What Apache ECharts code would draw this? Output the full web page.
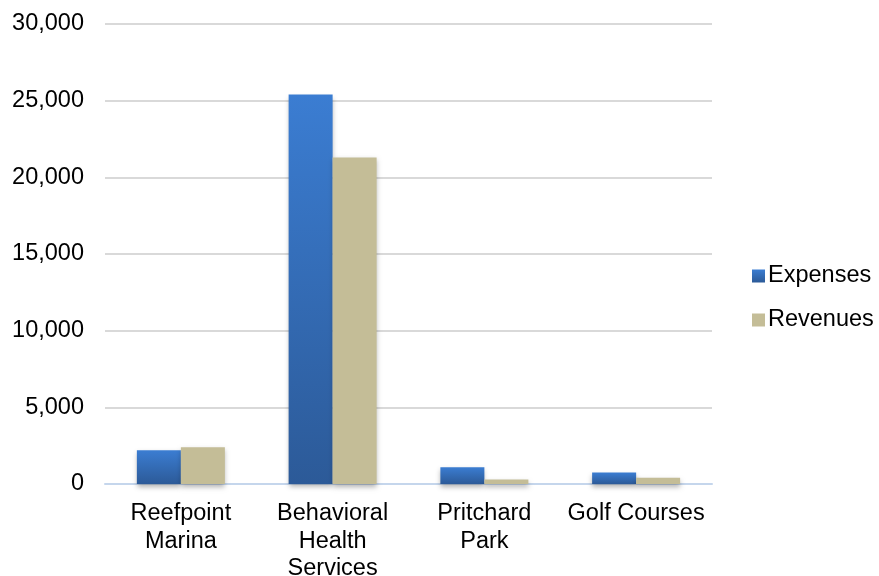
<!DOCTYPE html>
<html>
<head>
<meta charset="utf-8">
<script src="https://cdn.jsdelivr.net/npm/echarts@6/dist/echarts.min.js"></script>
<style>
  html, body { margin: 0; padding: 0; background: #fff; }
  #chart { width: 879px; height: 576px; }
</style>
</head>
<body>
<div id="chart"></div>
<script>
const categories = ['Reefpoint\nMarina', 'Behavioral\nHealth\nServices', 'Pritchard\nPark', 'Golf Courses'];
const expenses = [2200, 25400, 1100, 750];
const revenues = [2400, 21300, 300, 400];

const chart = echarts.init(document.getElementById('chart'));

const expColor = new echarts.graphic.LinearGradient(0, 0, 0, 1, [
  { offset: 0, color: '#3b7dd2' },
  { offset: 1, color: '#2c5a98' }
]);

chart.setOption({
  animation: false,
  textStyle: { fontFamily: 'Liberation Sans, Arial, sans-serif' },
  grid: { left: 105, right: 167, top: 24, bottom: 92, outerBoundsMode: 'none', containLabel: false },
  legend: {
    orient: 'vertical',
    left: 747,
    top: 259,
    itemWidth: 13,
    itemHeight: 13,
    itemGap: 20,
    icon: 'rect',
    textStyle: { fontSize: 23.5, color: '#000', padding: [0, 0, 0, -2] },
    data: ['Expenses', 'Revenues']
  },
  xAxis: {
    type: 'category',
    data: categories,
    axisLine: { lineStyle: { color: '#c5d6ec', width: 2 } },
    axisTick: { show: false },
    axisLabel: { fontSize: 23.5, color: '#000', lineHeight: 27.5, margin: 16, interval: 0 }
  },
  yAxis: {
    type: 'value',
    min: 0,
    max: 30000,
    interval: 5000,
    axisLine: { show: false },
    axisTick: { show: false },
    axisLabel: {
      fontSize: 23.5, color: '#000', margin: 21,
      formatter: v => v.toLocaleString('en-US')
    },
    splitLine: { lineStyle: { color: '#d9d9d9', width: 2 } }
  },
  series: [
    {
      name: 'Expenses',
      type: 'bar',
      data: expenses,
      barWidth: 44,
      barGap: '0%',
      itemStyle: {
        color: expColor,
        shadowColor: 'rgba(0,0,0,0.3)',
        shadowBlur: 5,
        shadowOffsetY: 3
      }
    },
    {
      name: 'Revenues',
      type: 'bar',
      data: revenues,
      barWidth: 44,
      itemStyle: {
        color: '#c4bd97',
        shadowColor: 'rgba(0,0,0,0.3)',
        shadowBlur: 5,
        shadowOffsetY: 3
      }
    }
  ]
});
</script>
</body>
</html>
